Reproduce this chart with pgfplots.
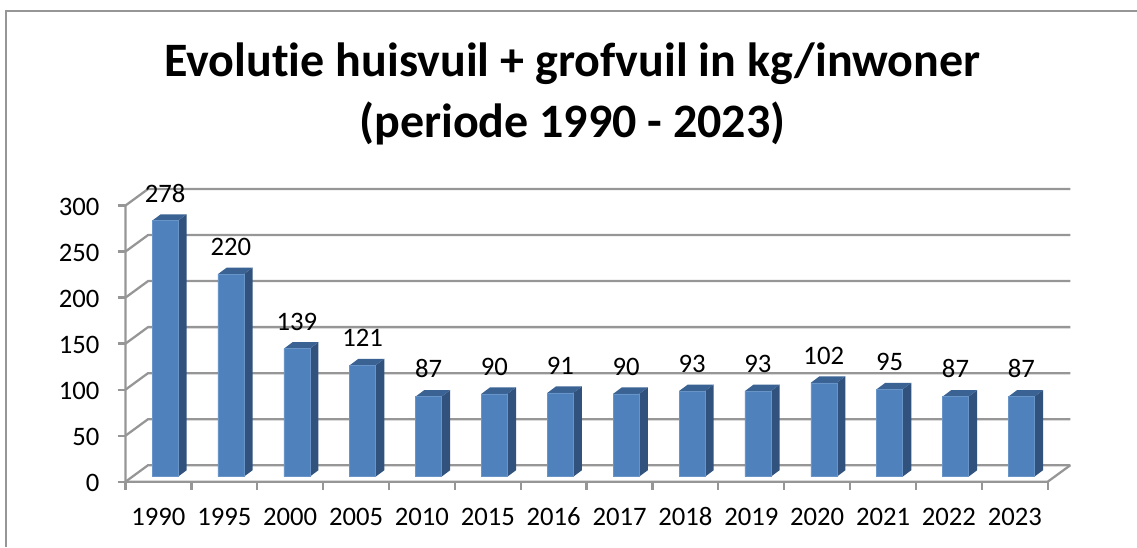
\documentclass[border=0pt]{standalone}
\usepackage{fontspec}
\setmainfont[Numbers=Lining,Ligatures=NoCommon]{Carlito}
\usepackage{pgfplots}
\usepackage{pgfplotstable}
\pgfplotsset{compat=1.18}
\definecolor{barfront}{HTML}{4F81BD}
\definecolor{barside}{HTML}{31527C}
\definecolor{bartop}{HTML}{3A6292}
\definecolor{gridc}{HTML}{969696}
\definecolor{framec}{HTML}{969696}

\pgfplotstableread{
i year value
0 1990 278
1 1995 220
2 2000 139
3 2005 121
4 2010 87
5 2015 90
6 2016 91
7 2017 90
8 2018 93
9 2019 93
10 2020 102
11 2021 95
12 2022 87
13 2023 87
}\wastedata

% side and top face of one bar: index, value
\newcommand{\barfaces}[2]{%
  \pgfmathsetmacro\xl{#1+0.1-0.197}%
  \pgfmathsetmacro\xr{#1+0.1+0.197}%
  \pgfmathsetmacro\xlb{\xl+0.132}%
  \pgfmathsetmacro\xrb{\xr+0.132}%
  \pgfmathsetmacro\vb{#2+7.05}%
  \addplot[fill=barside, draw=none, yshift=3.75pt] coordinates {(\xr,0) (\xrb,7.05) (\xrb,\vb) (\xr,#2)};
  \addplot[fill=bartop, draw=none, yshift=3.75pt] coordinates {(\xl,#2) (\xlb,\vb) (\xrb,\vb) (\xr,#2)};
}

\begin{document}
\begin{tikzpicture}[x=0.75pt, y=0.75pt]
\path[use as bounding box] (0,0) rectangle (1137,547);
\draw[framec, line width=1.5pt] (5.5,0) -- (5.5,536) -- (1137,536);
\begin{axis}[
    at={(94.125pt,48.975pt)}, anchor=south west,
    scale only axis,
    width=708.6pt, height=219.5pt,
    xmin=-0.5, xmax=13.843,
    ymin=0, ymax=317.9,
    clip=false,
    axis line style={draw=none},
    tick align=outside,
    tick pos=left,
    tick style={gridc, line width=1.7pt},
    major tick length=6pt,
    ytick={0,50,...,300},
    xtick={-0.5,0.5,...,13.5},
    x tick label as interval,
    xticklabels from table={\wastedata}{year},
    /pgf/number format/assume math mode=true,
    /pgf/number format/1000 sep={},
    tick label style={font=\fontsize{20}{20}\selectfont},
    xticklabel style={yshift=-10.5pt, text height=13pt, text depth=0pt},
    yticklabel style={xshift=-10pt, yshift=-1pt},
    title={Evolutie huisvuil + grofvuil in kg/inwoner\\(periode 1990 - 2023)},
    title style={at={(axis description cs:0.473,1.297)}, anchor=center, align=center,
        font=\fontsize{36}{45.7}\selectfont\bfseries},
]
% walls and floor
\pgfplotsforeachungrouped \v in {0,50,...,300} {
  \pgfmathsetmacro\w{\v+17.9}
  \addplot[gridc, line width=1.7pt] coordinates {(-0.5,\v) (-0.158,\w) (13.843,\w)};
}
\addplot[gridc, line width=1.7pt] coordinates {(-0.5,300) (-0.5,0) (13.5,0) (13.843,17.9)};
% depth of the bars
\barfaces{0}{278}
\barfaces{1}{220}
\barfaces{2}{139}
\barfaces{3}{121}
\barfaces{4}{87}
\barfaces{5}{90}
\barfaces{6}{91}
\barfaces{7}{90}
\barfaces{8}{93}
\barfaces{9}{93}
\barfaces{10}{102}
\barfaces{11}{95}
\barfaces{12}{87}
\barfaces{13}{87}
% front of the bars
\addplot[ybar, bar width=19.5pt, bar shift=4.95pt, yshift=3.75pt,
    fill=barfront, draw=barfront!85!white, line width=0.4pt,
    nodes near coords,
    every node near coord/.append style={text=black, anchor=center, xshift=4.95pt, yshift=20.5pt,
        text height=13pt, text depth=0pt,
        font=\fontsize{20}{20}\selectfont},
  ] table[x=i, y=value] {\wastedata};
\end{axis}
\end{tikzpicture}
\end{document}
